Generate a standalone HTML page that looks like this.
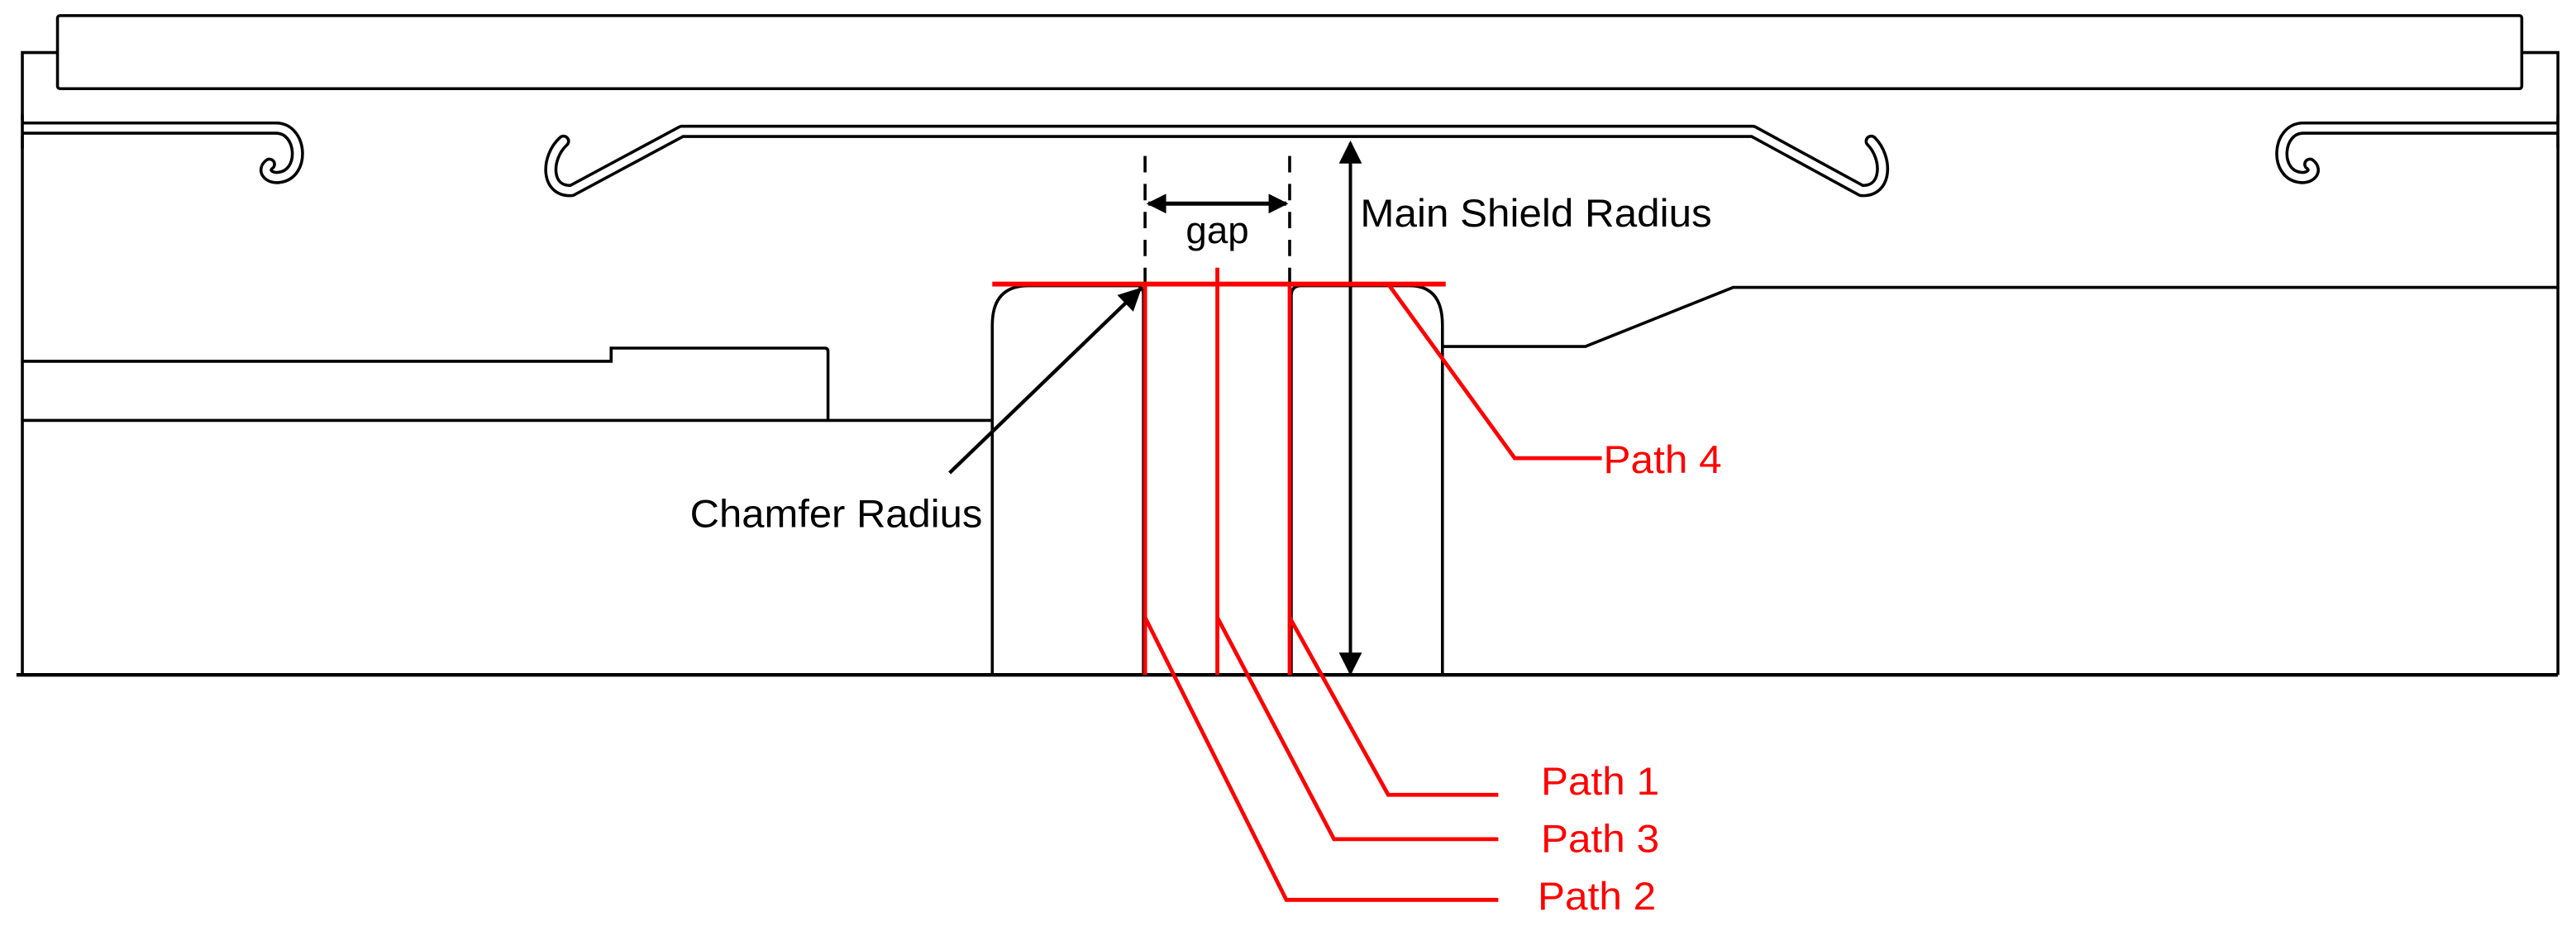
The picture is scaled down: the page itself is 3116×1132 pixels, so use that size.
<!DOCTYPE html>
<html><head><meta charset="utf-8"><style>
html,body{margin:0;padding:0;background:#fff;}
svg{display:block;}
text{font-family:"Liberation Sans",sans-serif;}
</style></head><body>
<svg width="3116" height="1132" viewBox="0 0 1568 570" preserveAspectRatio="none" xmlns="http://www.w3.org/2000/svg">
<defs>
<marker id="ah2" viewBox="0 0 10 10" refX="9" refY="5" markerWidth="16" markerHeight="14" orient="auto-start-reverse" markerUnits="userSpaceOnUse">
<path d="M0 0 L10 5 L0 10 z" fill="#000"/></marker>
<marker id="ah3" viewBox="0 0 10 10" refX="9" refY="5" markerWidth="20" markerHeight="12" orient="auto-start-reverse" markerUnits="userSpaceOnUse">
<path d="M0 0 L10 5 L0 10 z" fill="#000"/></marker>
</defs>
<g fill="none" stroke="#000" stroke-width="1.8">
<rect x="35" y="9.5" width="1500" height="44.5" rx="1.5"/>
<path d="M35 32 H13.6 V411"/>
<path d="M1535 32 H1557 V411"/>
<path d="M10 411 H1557" stroke-width="2.2"/>
<path d="M13.6 220 H372 V212 H502 Q504 212 504 214 V256"/>
<path d="M13.6 256 H604"/>
<path d="M604 411 V198 Q604 174 626 174 H692 Q696 174 696 180 V411"/>
<path d="M786 411 V180 Q786 174 792 174 H858 Q878 174 878 198 V411"/>
<path d="M878 211 H965 L1055 175 H1557"/>
</g>
<g fill="none" stroke-linecap="round" stroke-linejoin="round">
<g stroke="#000" stroke-width="8">
<path d="M13.6 78 H168 C184 78 186 106 170 108 C164 109 159 104 164 100"/>
<path d="M1557 78 H1402 C1386 78 1384 106 1400 108 C1406 109 1411 104 1406 100"/>
<path d="M343 86 C332 96 332 117 348 116 L415 80 H1067 L1133 116 C1149 117 1149 96 1139 86"/>
</g>
<g stroke="#fff" stroke-width="4.4">
<path d="M13.6 78 H168 C184 78 186 106 170 108 C164 109 159 104 164 100"/>
<path d="M1557 78 H1402 C1386 78 1384 106 1400 108 C1406 109 1411 104 1406 100"/>
<path d="M343 86 C332 96 332 117 348 116 L415 80 H1067 L1133 116 C1149 117 1149 96 1139 86"/>
</g>
<rect x="9" y="73" width="4" height="10" fill="#fff" stroke="none"/>
<rect x="1557.5" y="73" width="6" height="10" fill="#fff" stroke="none"/>
<path d="M13.6 70 V90 M1557 70 V90" stroke="#000" stroke-width="1.8"/>
</g>
<g stroke="#000" stroke-width="1.8" stroke-dasharray="10 7">
<path d="M697 95 V173"/><path d="M785 95 V173"/>
</g>
<path d="M699 124 H783" stroke="#000" stroke-width="2.5" marker-start="url(#ah3)" marker-end="url(#ah3)"/>
<text x="741" y="148" font-size="23" text-anchor="middle">gap</text>
<path d="M822 87 V410" stroke="#000" stroke-width="2" marker-start="url(#ah2)" marker-end="url(#ah2)"/>
<text x="828" y="138" font-size="24" textLength="214" lengthAdjust="spacingAndGlyphs">Main Shield Radius</text>
<path d="M578 288 L694 176" stroke="#000" stroke-width="2.2" marker-end="url(#ah2)"/>
<text x="420" y="321" font-size="24" textLength="178" lengthAdjust="spacingAndGlyphs">Chamfer Radius</text>
<g fill="none" stroke="#f00" stroke-width="2.4">
<path d="M604 173 H880" stroke-width="3"/>
<path d="M697 173 V411"/>
<path d="M741 163 V411"/>
<path d="M785 173 V411"/>
<path d="M697 376 L783 548 H912"/>
<path d="M741 376 L812 511 H912"/>
<path d="M785 376 L845 484 H912"/>
<path d="M845 173 L922 279 H975"/>
</g>
<g fill="#f00" font-size="24">
<text x="976" y="288" textLength="72" lengthAdjust="spacingAndGlyphs">Path 4</text>
<text x="938" y="484" textLength="72" lengthAdjust="spacingAndGlyphs">Path 1</text>
<text x="938" y="519" textLength="72" lengthAdjust="spacingAndGlyphs">Path 3</text>
<text x="936" y="554" textLength="72" lengthAdjust="spacingAndGlyphs">Path 2</text>
</g>
</svg>
</body></html>
